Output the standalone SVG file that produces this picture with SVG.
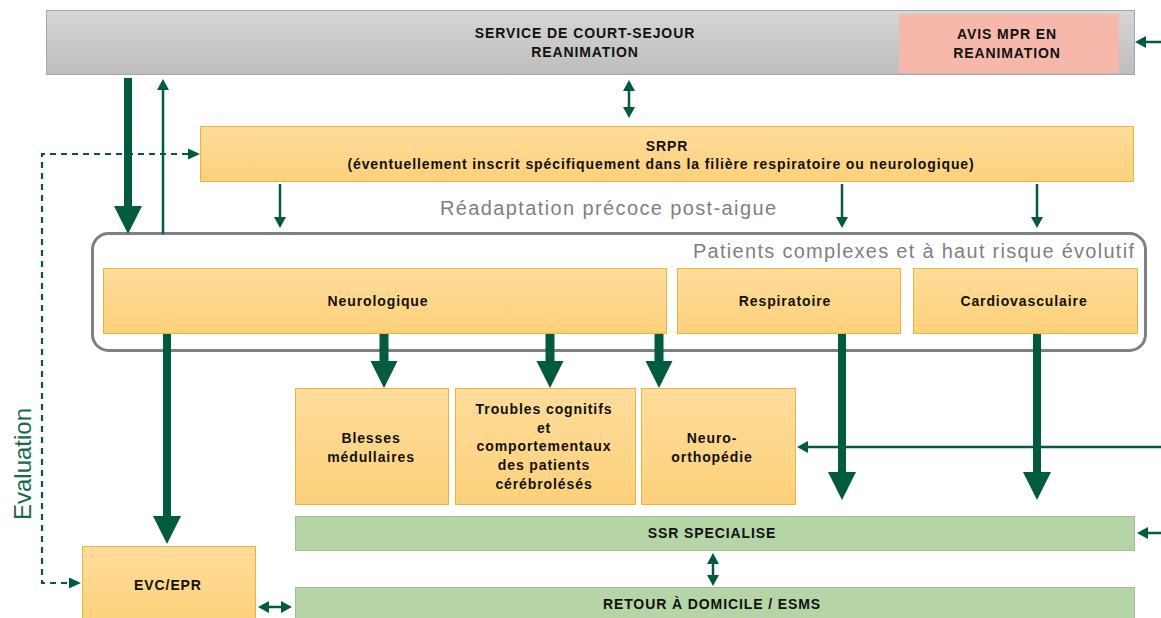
<svg xmlns="http://www.w3.org/2000/svg" width="1161" height="618" viewBox="0 0 1161 618">
<defs>
<linearGradient id="gGray" x1="0" y1="0" x2="0" y2="1"><stop offset="0" stop-color="#d6d6d6"/><stop offset="1" stop-color="#bdbdbd"/></linearGradient>
<linearGradient id="gOr" x1="0" y1="0" x2="0" y2="1"><stop offset="0" stop-color="#fedc9b"/><stop offset="1" stop-color="#fdd17a"/></linearGradient>
<marker id="mThin" markerUnits="userSpaceOnUse" markerWidth="12" markerHeight="14" refX="0" refY="6" orient="auto-start-reverse" viewBox="0 0 12 12" overflow="visible"><path d="M0,0 L11,6 L0,12 z" fill="#035b3e"/></marker>
<marker id="mBig" markerUnits="userSpaceOnUse" markerWidth="28" markerHeight="28" refX="0" refY="14" orient="auto" viewBox="0 0 28 28" overflow="visible"><path d="M0,0 L28,14 L0,28 z" fill="#035b3e"/></marker>
<marker id="mMid" markerUnits="userSpaceOnUse" markerWidth="27" markerHeight="27" refX="0" refY="13.5" orient="auto" viewBox="0 0 27 27" overflow="visible"><path d="M0,0 L27,13.5 L0,27 z" fill="#035b3e"/></marker>
</defs>
<style>
.lbl{font-family:"Liberation Sans",Arial,sans-serif;font-weight:bold;font-size:14px;fill:#111;text-anchor:middle;letter-spacing:0.9px}
.or{fill:url(#gOr);stroke:#eab53f;stroke-width:1}
.gr{fill:#b5d5a6;stroke:#a9b8a2;stroke-width:1}
.big{font-family:"Liberation Sans",Arial,sans-serif;font-size:20px;fill:#7f7f7f}
.c{fill:none;stroke:#035b3e}
.thin{stroke-width:2.5;marker-end:url(#mThin)}
.dbl{stroke-width:2.5;marker-start:url(#mThin);marker-end:url(#mThin)}
.thick{stroke-width:8;marker-end:url(#mBig)}
.mid{stroke-width:9;marker-end:url(#mMid)}
.dash{stroke-width:2.2;stroke-dasharray:6 5}
</style>

<g id="court-sejour">
<rect x="46.5" y="10.5" width="1088" height="64" fill="url(#gGray)" stroke="#a6a6a6"/>
<text class="lbl" x="585" y="38">SERVICE DE COURT-SEJOUR</text>
<text class="lbl" x="585" y="57">REANIMATION</text>
</g>
<g id="avis-mpr">
<rect x="899" y="14" width="220" height="59" fill="#f6b8ab"/>
<text class="lbl" x="1007" y="39">AVIS MPR  EN</text>
<text class="lbl" x="1007" y="58">REANIMATION</text>
</g>
<g id="srpr">
<rect class="or" x="200.5" y="126.5" width="933" height="55"/>
<text class="lbl" x="667" y="151">SRPR</text>
<text class="lbl" x="661" y="169">(éventuellement inscrit spécifiquement  dans la filière respiratoire ou neurologique)</text>
</g>
<g id="readaptation">
<text class="big" x="440" y="215" textLength="336" lengthAdjust="spacing">Réadaptation précoce post-aigue</text>
</g>
<g id="patients-complexes">
<rect x="92.5" y="233.5" width="1053" height="117" rx="16" fill="none" stroke="#808080" stroke-width="3"/>
<text class="big" x="693" y="258" textLength="441" lengthAdjust="spacing">Patients complexes et à haut risque évolutif</text>
</g>
<g id="neurologique">
<rect class="or" x="103.5" y="268.5" width="563" height="65"/>
<text class="lbl" x="378" y="306">Neurologique</text>
</g>
<g id="respiratoire">
<rect class="or" x="677.5" y="268.5" width="223" height="65"/>
<text class="lbl" x="785" y="306">Respiratoire</text>
</g>
<g id="cardiovasculaire">
<rect class="or" x="913.5" y="268.5" width="224" height="65"/>
<text class="lbl" x="1024" y="306">Cardiovasculaire</text>
</g>
<g id="blesses">
<rect class="or" x="295.5" y="388.5" width="153" height="116"/>
<text class="lbl" x="371" y="443">Blesses</text>
<text class="lbl" x="371" y="462">médullaires</text>
</g>
<g id="troubles">
<rect class="or" x="455.5" y="388.5" width="180" height="116"/>
<text class="lbl" x="544" y="414">Troubles cognitifs</text>
<text class="lbl" x="544" y="433">et</text>
<text class="lbl" x="544" y="451">comportementaux</text>
<text class="lbl" x="544" y="470">des patients</text>
<text class="lbl" x="544" y="489">cérébrolésés</text>
</g>
<g id="neuro-ortho">
<rect class="or" x="641.5" y="388.5" width="154" height="116"/>
<text class="lbl" x="712" y="443">Neuro-</text>
<text class="lbl" x="712" y="462">orthopédie</text>
</g>
<g id="ssr">
<rect class="gr" x="295.5" y="516.5" width="839" height="34"/>
<text class="lbl" x="712" y="538">SSR SPECIALISE</text>
</g>
<g id="retour">
<rect class="gr" x="295.5" y="587.5" width="839" height="40"/>
<text class="lbl" x="712" y="609">RETOUR À DOMICILE / ESMS</text>
</g>
<g id="evc">
<rect class="or" x="82.5" y="546.5" width="173" height="80"/>
<text class="lbl" x="168" y="590">EVC/EPR</text>
</g>
<g id="evaluation">
<text x="31" y="464" transform="rotate(-90 31 464)" font-family="Liberation Sans, Arial, sans-serif" font-size="24" fill="#166b4a" text-anchor="middle">Evaluation</text>
</g>

<g id="connectors">
<line class="c thin" x1="1161" y1="42" x2="1146" y2="42"/>
<line class="c thick" x1="128" y1="78" x2="128" y2="206"/>
<line class="c thin" x1="163" y1="234" x2="163" y2="90"/>
<line class="c dbl" x1="629" y1="91" x2="629" y2="107"/>
<line class="c thin" x1="280" y1="184" x2="280" y2="217"/>
<line class="c thin" x1="842" y1="184" x2="842" y2="217"/>
<line class="c thin" x1="1037" y1="184" x2="1037" y2="217"/>
<path class="c dash" d="M188,154 H42 V583 H69"/>
<path d="M188,148.5 L200,154 L188,159.5 z M69,577.5 L81,583 L69,588.5 z" fill="#035b3e"/>
<line class="c thick" x1="167" y1="334" x2="167" y2="516"/>
<line class="c mid" x1="384" y1="334" x2="384" y2="361"/>
<line class="c mid" x1="550" y1="334" x2="550" y2="361"/>
<line class="c mid" x1="659" y1="334" x2="659" y2="361"/>
<line class="c thick" x1="842" y1="334" x2="842" y2="472"/>
<line class="c thick" x1="1037" y1="334" x2="1037" y2="472"/>
<line class="c thin" x1="1161" y1="447" x2="808" y2="447"/>
<line class="c thin" x1="1161" y1="533" x2="1148" y2="533"/>
<line class="c dbl" x1="713" y1="564" x2="713" y2="575"/>
<line class="c dbl" x1="269" y1="607" x2="281" y2="607"/>
</g>
</svg>
